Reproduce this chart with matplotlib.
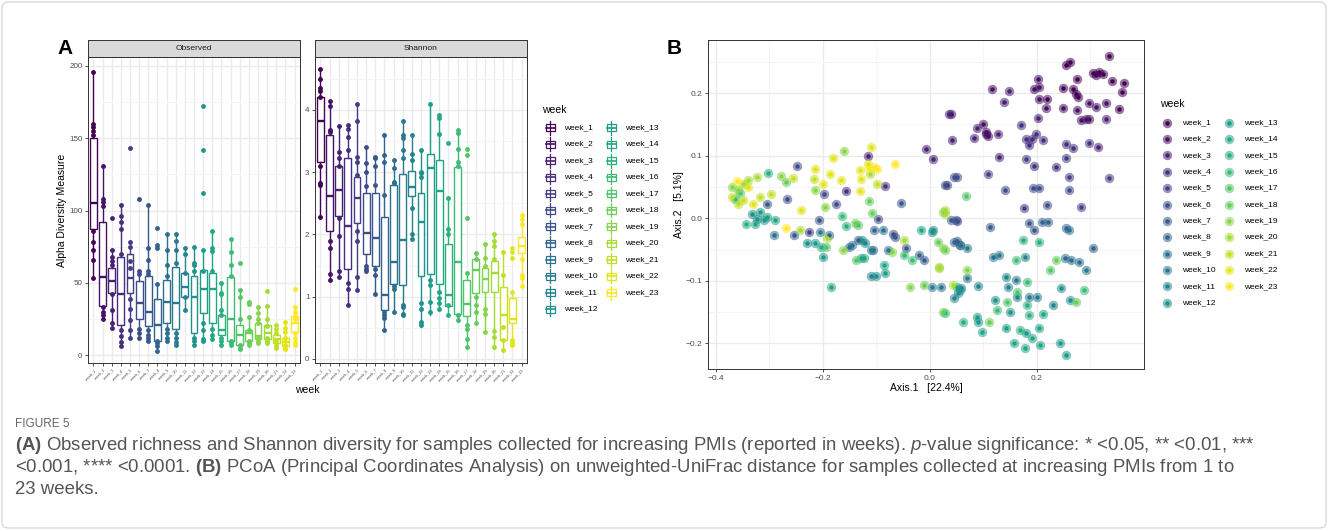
import numpy as np
import matplotlib.pyplot as plt
from matplotlib.patches import Rectangle, FancyBboxPatch

plt.rcParams["font.family"] = ["Liberation Sans", "DejaVu Sans"]
plt.rcParams["mathtext.fontset"] = "custom"
plt.rcParams["mathtext.rm"] = "Liberation Sans"
plt.rcParams["mathtext.bf"] = "Liberation Sans:bold"
plt.rcParams["mathtext.it"] = "Liberation Sans:italic"

# ---- data ----
weeks = ["week_%d" % i for i in range(1, 24)]

# Observed richness: box stats per week
obs_low = [53, 25, 19, 6, 12, 12, 10, 3, 10, 7, 31, 7, 10, 11, 7, 7, 4, 7, 8, 8, 5, 4, 7]
obs_q1 = [87, 34, 43, 21, 43, 25, 20, 10, 22, 18, 40, 15, 29, 22, 14, 10, 7, 10, 11, 11, 8, 6, 16]
obs_med = [105, 54, 51, 42, 53, 36, 30, 21, 37, 36, 47, 40, 46, 46, 17, 25, 14, 15, 13, 15, 11, 9, 22]
obs_q3 = [150, 92, 60, 68, 70, 51, 55, 39, 52, 61, 57, 55, 59, 57, 28, 54, 21, 17, 22, 21, 14, 12, 27]
obs_high = [196, 131, 73, 104, 78, 58, 104, 49, 84, 84, 74, 75, 73, 86, 50, 80, 45, 27, 33, 34, 21, 23, 33]
obs_pts = [
    [196, 160, 158, 155, 152, 86, 78, 73, 66, 53],
    [131, 108, 106, 103, 33, 30, 28, 25],
    [95, 73, 68, 65, 62, 42, 31, 22, 19],
    [104, 96, 92, 87, 70, 17, 13, 9, 6],
    [143, 78, 75, 65, 60, 39, 32, 24, 17, 12],
    [108, 58, 56, 18, 15, 12],
    [104, 74, 66, 58, 56, 17, 14, 12, 10],
    [88, 76, 74, 49, 10, 8, 6, 3],
    [84, 73, 62, 55, 18, 15, 12, 10],
    [84, 79, 73, 64, 15, 12, 9, 7],
    [74, 70, 57, 40, 31],
    [75, 64, 62, 58, 12, 10, 7],
    [172, 142, 112, 73, 58, 22, 17, 11, 10],
    [86, 74, 72, 58, 18, 14, 11],
    [50, 43, 42, 31, 28, 12, 10, 7],
    [80, 71, 62, 55, 10, 8, 7],
    [64, 45, 40, 25, 7, 5, 4],
    [37, 35, 26, 17, 10, 8, 7],
    [33, 29, 25, 22, 12, 10, 8],
    [44, 34, 25, 20, 12, 10, 8],
    [21, 18, 15, 10, 7, 5],
    [23, 19, 16, 12, 7, 5, 4],
    [46, 33, 30, 27, 25, 15, 12, 9, 7],
]

# Shannon diversity: box stats per week
sha_low = [2.28, 1.27, 1.32, 0.86, 1.1, 1.42, 1.05, 0.46, 0.75, 0.7, 1.93, 0.52, 0.7, 0.77, 0.7, 0.6, 0.2, 0.57, 0.44, 0.19, 0.14, 0.22, 1.17]
sha_q1 = [3.17, 2.06, 2.3, 1.44, 2.18, 1.69, 1.5, 0.78, 1.21, 1.18, 2.62, 1.33, 1.37, 1.2, 0.85, 0.73, 0.69, 1.06, 1.08, 1.08, 0.3, 0.58, 1.7]
sha_med = [3.83, 2.62, 2.72, 2.13, 2.59, 2.03, 1.94, 1.02, 1.56, 1.91, 2.76, 2.2, 3.07, 2.7, 1.03, 1.55, 0.88, 1.43, 1.28, 1.38, 0.7, 0.64, 1.81]
sha_q3 = [4.2, 3.6, 3.1, 3.23, 2.93, 2.66, 2.67, 2.28, 2.79, 2.97, 3.02, 2.66, 3.3, 3.2, 1.84, 3.08, 1.27, 1.6, 1.46, 1.58, 1.16, 0.98, 1.96]
sha_high = [4.65, 4.15, 3.74, 3.75, 4.1, 3.4, 3.25, 3.6, 3.2, 3.82, 3.6, 3.35, 4.1, 3.92, 2.58, 3.68, 1.38, 1.7, 1.85, 2.0, 1.72, 1.07, 2.32]
sha_pts = [
    [4.65, 4.5, 4.35, 4.3, 4.2, 3.1, 2.83, 2.8, 2.28],
    [4.15, 4.07, 3.68, 3.65, 1.9, 1.78, 1.37, 1.27],
    [3.74, 3.32, 3.23, 3.1, 2.27, 1.97, 1.42, 1.32],
    [3.75, 3.7, 3.57, 3.35, 1.22, 1.12, 0.86],
    [4.1, 3.83, 3.25, 3.17, 2.95, 2.05, 1.9, 1.32, 1.1],
    [3.4, 3.15, 3.0, 2.78, 1.5, 1.45, 1.42],
    [3.25, 3.22, 3.1, 2.8, 1.45, 1.35, 1.05],
    [3.6, 3.27, 3.17, 2.63, 0.75, 0.7, 0.65, 0.46],
    [3.2, 3.07, 2.85, 2.82, 1.17, 1.12, 0.75],
    [3.82, 3.6, 3.55, 3.35, 3.22, 0.87, 0.83, 0.72, 0.7],
    [3.6, 3.3, 3.2, 2.43, 2.0, 1.93],
    [3.35, 3.0, 2.98, 2.93, 0.9, 0.8, 0.6, 0.55],
    [4.1, 1.27, 1.18, 0.92, 0.75],
    [3.92, 3.87, 3.62, 1.07, 0.98, 0.9, 0.8],
    [3.47, 2.58, 2.08, 2.0, 0.86, 0.7],
    [3.68, 3.63, 3.37, 3.17, 3.1, 0.7, 0.63],
    [3.37, 3.27, 2.26, 1.38, 0.55, 0.48, 0.32, 0.2],
    [1.7, 1.6, 1.0, 0.87, 0.75, 0.57],
    [1.85, 1.62, 1.5, 0.8, 0.72, 0.44],
    [2.0, 1.9, 1.82, 1.6, 0.45, 0.35, 0.2],
    [1.72, 1.35, 0.52, 0.3, 0.15],
    [1.78, 1.72, 1.62, 1.07, 0.3, 0.25, 0.22],
    [2.32, 2.25, 2.17, 1.6, 1.35, 1.3, 1.17],
]

# PCoA (unweighted UniFrac) coordinates per week
pc_x = [
    [0.335, 0.305, 0.316, 0.324, 0.311, 0.341, 0.363, 0.36, 0.276, 0.255, 0.262, 0.25, 0.268, 0.274, 0.278, 0.219, 0.353],
    [0.2025, 0.205, 0.205, 0.218, 0.25, 0.275, 0.297, 0.311, 0.329, 0.283, 0.292, 0.298, 0.116, 0.194, 0.099, 0.105, 0.108, 0.105, 0.04],
    [0.148, 0.138, 0.33, 0.203, 0.036, 0.089, 0.127, 0.083, 0.041, 0.315, 0.13, -0.007, 0.006, -0.115],
    [0.171, 0.18, 0.191, 0.199, 0.186, 0.211, 0.254, 0.268, 0.298, 0.194, 0.236, -0.084, -0.156],
    [0.18, 0.254, 0.109, 0.26, 0.336, 0.032, 0.05, -0.226, 0.177, 0.283],
    [0.046, 0.029, 0.141, 0.193, 0.204, 0.26, 0.05, -0.248, -0.268, -0.198, -0.176, -0.097, -0.068, 0.219],
    [0.039, 0.049, 0.112, -0.305, -0.255, -0.208, -0.054, -0.135, -0.066, -0.045, -0.01, 0.05, 0.186, 0.194],
    [0.21, 0.222, 0.255, -0.189, -0.151, -0.104, -0.021, 0.056, 0.305, 0.046],
    [0.26, 0.057, -0.291, -0.145, -0.107, -0.088, -0.079, 0.02, 0.119, 0.252, 0.264, 0.279],
    [0.069, 0.13, -0.206, -0.11, 0.004, 0.293, 0.069, 0.162, 0.186, 0.2],
    [0.179, -0.122, -0.11, 0.046, 0.058, 0.091, 0.143, 0.146, 0.164, 0.23],
    [-0.229, -0.126, -0.101, 0.006, 0.004, 0.056, 0.052, 0.122, 0.246, 0.262, 0.15, -0.333, -0.323],
    [-0.214, -0.199, -0.084, 0.05, 0.089, 0.091, 0.143, 0.18, 0.254, 0.243, -0.311, -0.305, -0.317],
    [-0.129, -0.123, -0.085, -0.184, -0.016, 0.211, 0.205, 0.178, 0.192, 0.206, 0.157, 0.098, -0.289, -0.327],
    [-0.303, -0.157, -0.204, 0.174, 0.205, 0.063, 0.181, 0.185, 0.168, -0.344],
    [-0.164, -0.034, -0.049, 0.029, 0.289, 0.161, 0.181, 0.126, -0.365],
    [0.067, -0.135, -0.195, -0.139, 0.224, 0.164, 0.144, -0.355],
    [-0.27, -0.113, -0.109, -0.14, -0.01, 0.015, 0.029, 0.236, 0.274, 0.111, 0.025],
    [-0.278, -0.16, -0.215, -0.197, -0.162, -0.071, -0.038, 0.024, 0.024, 0.069, -0.371, -0.358],
    [-0.112, -0.243, -0.192, -0.049, 0.018, 0.028, 0.029, 0.018, 0.044, -0.349, -0.341, -0.324],
    [-0.256, -0.216, -0.098, -0.371, -0.358, -0.349, -0.317, -0.298],
    [-0.241, -0.214, -0.199, -0.181, -0.187, -0.167, -0.11, -0.131, -0.129, -0.131, -0.116, -0.341, -0.33],
    [-0.113, -0.104, -0.099, -0.066, -0.27, -0.36],
]
pc_y = [
    [0.26, 0.232, 0.234, 0.231, 0.229, 0.22, 0.217, 0.202, 0.222, 0.245, 0.25, 0.208, 0.207, 0.199, 0.194, 0.19, 0.174],
    [0.222, 0.21, 0.191, 0.177, 0.177, 0.173, 0.185, 0.178, 0.184, 0.157, 0.159, 0.158, 0.206, 0.206, 0.151, 0.134, 0.131, 0.138, 0.167],
    [0.203, 0.186, 0.159, 0.16, 0.167, 0.145, 0.134, 0.129, 0.125, 0.114, 0.098, 0.11, 0.095, 0.1],
    [0.149, 0.126, 0.127, 0.135, 0.117, 0.125, 0.119, 0.113, 0.12, 0.084, 0.082, 0.052, 0.043],
    [0.095, 0.096, 0.071, 0.066, 0.065, 0.053, -0.004, -0.022, 0.017, 0.018],
    [0.066, 0.053, 0.045, 0.048, 0.048, 0.045, 0.066, 0.083, 0.031, 0.039, 0.023, -0.001, -0.025, 0.022],
    [-0.003, -0.003, -0.014, 0.023, -0.026, -0.002, 0.025, -0.034, -0.03, -0.048, -0.067, -0.036, -0.007, -0.018],
    [-0.006, -0.006, -0.015, -0.027, -0.046, -0.019, -0.058, -0.043, -0.048, -0.038],
    [-0.019, -0.043, -0.026, -0.043, -0.051, -0.019, -0.051, -0.11, -0.062, -0.064, -0.066, -0.07],
    [-0.048, -0.059, -0.022, -0.051, -0.11, -0.083, -0.096, -0.099, -0.126, -0.126],
    [-0.062, -0.04, -0.093, -0.128, -0.112, -0.108, -0.094, -0.11, -0.126, -0.139],
    [-0.04, -0.035, -0.093, -0.019, -0.022, -0.115, -0.12, -0.131, -0.111, -0.131, -0.15, 0.007, -0.001],
    [-0.04, -0.062, -0.088, -0.11, -0.158, -0.166, -0.176, -0.184, -0.218, -0.2, -0.003, 0.002, 0.01],
    [-0.064, -0.064, -0.075, -0.11, -0.019, -0.153, -0.176, -0.208, -0.192, -0.202, -0.2, -0.182, -0.003, -0.009],
    [0.072, -0.012, -0.046, -0.035, -0.038, -0.166, -0.139, -0.155, -0.179, -0.009],
    [0.003, -0.067, -0.059, -0.151, -0.114, -0.067, -0.102, -0.147, 0.03],
    [0.035, -0.011, -0.046, -0.067, -0.083, -0.118, -0.134, 0.04],
    [0.058, 0.027, 0.009, -0.007, -0.107, -0.038, -0.05, -0.067, -0.134, -0.166, -0.15],
    [0.068, 0.108, 0.045, 0.018, -0.051, -0.054, -0.11, 0.01, -0.048, -0.082, 0.05, 0.045],
    [0.071, -0.018, -0.032, -0.035, -0.078, 0.013, 0.007, -0.079, -0.107, 0.055, 0.061, 0.066],
    [0.065, 0.063, 0.054, 0.034, 0.023, 0.029, 0.034, 0.039],
    [0.013, 0.079, 0.055, 0.097, 0.07, 0.061, 0.114, 0.077, 0.063, 0.043, 0.087, 0.05, 0.023],
    [0.079, 0.082, 0.079, 0.087, -0.015, 0.06],
]

cols = plt.cm.viridis(np.linspace(0, 1, len(weeks)))

W, H = 1328, 531
fig = plt.figure(figsize=(W / 100, H / 100), dpi=100)
fig.patch.set_facecolor("white")

def fbox(x0, y0, x1, y1):
    # pixel box (top-left origin) -> figure fraction rect
    return [x0 / W, 1 - y1 / H, (x1 - x0) / W, (y1 - y0) / H]

GRID = "#EBEBEB"
DARK = "#333333"
TXT = "#4D4D4D"

def style_axes(ax):
    for s in ax.spines.values():
        s.set_color(DARK)
        s.set_linewidth(0.7)
    ax.set_facecolor("white")
    ax.tick_params(colors=DARK, labelcolor=TXT, length=2.5, width=0.6, labelsize=5.8, pad=1.5)
    ax.set_axisbelow(True)

# ---- panel A: boxplot facets ----
facets = [
    ("Observed", fbox(88, 57, 300, 363), obs_low, obs_q1, obs_med, obs_q3, obs_high, obs_pts, (-5.5, 206.2), [0, 50, 100, 150, 200], [25, 75, 125, 175]),
    ("Shannon", fbox(315, 57, 527, 363), sha_low, sha_q1, sha_med, sha_q3, sha_high, sha_pts, (-0.065, 4.85), [0, 1, 2, 3, 4], [0.5, 1.5, 2.5, 3.5, 4.5]),
]
pos = np.arange(1, len(weeks) + 1)
for name, rect, lo, q1, med, q3, hi, pts, ylim, yt, ymin in facets:
    ax = fig.add_axes(rect)
    style_axes(ax)
    for v in pos:
        ax.axvline(v, color=GRID, lw=1.0, zorder=0)
    for v in yt:
        ax.axhline(v, color=GRID, lw=1.0, zorder=0)
    for v in ymin:
        ax.axhline(v, color="#F4F4F4", lw=0.6, zorder=0)
    for i in range(len(weeks)):
        c = cols[i]
        st = [dict(whislo=lo[i], q1=q1[i], med=med[i], q3=q3[i], whishi=hi[i], fliers=[])]
        ax.bxp(st, positions=[pos[i]], widths=0.75, showfliers=False, showcaps=False,
               patch_artist=True,
               boxprops=dict(facecolor="white", edgecolor=c, linewidth=1.0),
               whiskerprops=dict(color=c, linewidth=1.0),
               medianprops=dict(color=c, linewidth=1.7))
        ax.plot(np.full(len(pts[i]), pos[i]), pts[i], "o", color=c, ms=3.5, mew=0, zorder=5)
    ax.set_xlim(0.4, 23.6)
    ax.set_ylim(*ylim)
    ax.set_yticks(yt)
    ax.set_xticks(pos)
    ax.set_xticklabels(weeks, rotation=45, ha="right", rotation_mode="anchor", fontsize=2.8)
    # strip
    sx = fig.add_axes([rect[0], rect[1] + rect[3], rect[2], 17 / H])
    sx.set_facecolor("#D9D9D9")
    sx.set_xticks([])
    sx.set_yticks([])
    for s in sx.spines.values():
        s.set_color(DARK)
        s.set_linewidth(0.7)
    sx.text(0.5, 0.48, name, ha="center", va="center", fontsize=6, color="#1A1A1A", transform=sx.transAxes)

# ---- panel B: PCoA ----
axb = fig.add_axes(fbox(708, 40, 1144, 369))
style_axes(axb)
axb.tick_params(labelsize=6)
for v in [-0.4, -0.2, 0.0, 0.2]:
    axb.axvline(v, color=GRID, lw=1.0, zorder=0)
for v in [-0.3, -0.1, 0.1, 0.3]:
    axb.axvline(v, color="#F4F4F4", lw=0.6, zorder=0)
for v in [-0.2, -0.1, 0.0, 0.1, 0.2]:
    axb.axhline(v, color=GRID, lw=1.0, zorder=0)
for v in [-0.15, -0.05, 0.05, 0.15, 0.25]:
    axb.axhline(v, color="#F4F4F4", lw=0.6, zorder=0)
for i in range(len(weeks)):
    axb.scatter(pc_x[i], pc_y[i], s=46, color=cols[i], alpha=0.55, linewidths=0, zorder=2)
for i in range(len(weeks)):
    axb.scatter(pc_x[i], pc_y[i], s=10, color=cols[i], linewidths=0, zorder=3)
axb.set_xlim(-0.415, 0.4007)
axb.set_ylim(-0.241, 0.285)
axb.set_xticks([-0.4, -0.2, 0.0, 0.2])
axb.set_xticklabels(["\u22120.4", "\u22120.2", "0.0", "0.2"])
axb.set_yticks([-0.2, -0.1, 0.0, 0.1, 0.2])
axb.set_yticklabels(["\u22120.2", "\u22120.1", "0.0", "0.1", "0.2"])

# ---- overlay in pixel coords: labels, legends, caption ----
ov = fig.add_axes([0, 0, 1, 1], zorder=10)
ov.set_xlim(0, W)
ov.set_ylim(H, 0)
ov.axis("off")
ov.patch.set_alpha(0)

ov.add_patch(FancyBboxPatch((2, 2), W - 4, H - 5, boxstyle="round,pad=0,rounding_size=6",
                            fill=False, edgecolor="#D0D0D0", linewidth=0.8))

ov.text(57, 48, "A", fontsize=15, fontweight="bold", ha="left", va="center")
ov.text(667, 48, "B", fontsize=15, fontweight="bold", ha="left", va="center")
ov.text(62, 210, "Alpha Diversity Measure", rotation=90, fontsize=7.5, ha="center", va="center")
ov.text(307, 390, "week", fontsize=7.5, ha="center", va="center")
ov.text(926, 388, "Axis.1   [22.4%]", fontsize=7.5, ha="center", va="center")
ov.text(679, 205, "Axis.2   [5.1%]", rotation=90, fontsize=7.5, ha="center", va="center")

# legend A (boxplot glyphs)
ov.text(542, 110, "week", fontsize=7.5, ha="left", va="center")
for i, lab in enumerate(weeks):
    col_i, row_i = divmod(i, 12)
    cx = 550 + col_i * 61
    cy = 127.7 + row_i * 16.5
    c = cols[i]
    ov.plot([cx, cx], [cy - 7, cy + 7], color=c, lw=0.9)
    ov.add_patch(Rectangle((cx - 4.5, cy - 3.5), 9, 7, facecolor="white", edgecolor=c, lw=0.9))
    ov.plot([cx - 4.5, cx + 4.5], [cy, cy], color=c, lw=1.2)
    ov.text(cx + 14, cy, lab, fontsize=6, ha="left", va="center")

# legend B (point glyphs)
ov.text(1160, 104, "week", fontsize=7.5, ha="left", va="center")
for i, lab in enumerate(weeks):
    col_i, row_i = divmod(i, 12)
    cx = 1167 + col_i * 62
    cy = 122.7 + row_i * 16.36
    ov.scatter([cx], [cy], s=46, color=cols[i], alpha=0.55, linewidths=0)
    ov.scatter([cx], [cy], s=10, color=cols[i], linewidths=0)
    ov.text(cx + 15, cy, lab, fontsize=6, ha="left", va="center")

# caption
CAP = "#555555"
ov.text(15, 424, "FIGURE 5", fontsize=8.5, color="#666666", ha="left", va="center")
cap_lines = [
    r"$\mathbf{(A)}$ Observed richness and Shannon diversity for samples collected for increasing PMIs (reported in weeks). $\mathit{p}$-value significance: * <0.05, ** <0.01, ***",
    r"<0.001, **** <0.0001. $\mathbf{(B)}$ PCoA (Principal Coordinates Analysis) on unweighted-UniFrac distance for samples collected at increasing PMIs from 1 to",
    "23 weeks.",
]
for k, line in enumerate(cap_lines):
    ov.text(15, 446 + k * 21.5, line, fontsize=13.4, color=CAP, ha="left", va="center")

fig.savefig("out.png", dpi=100)
